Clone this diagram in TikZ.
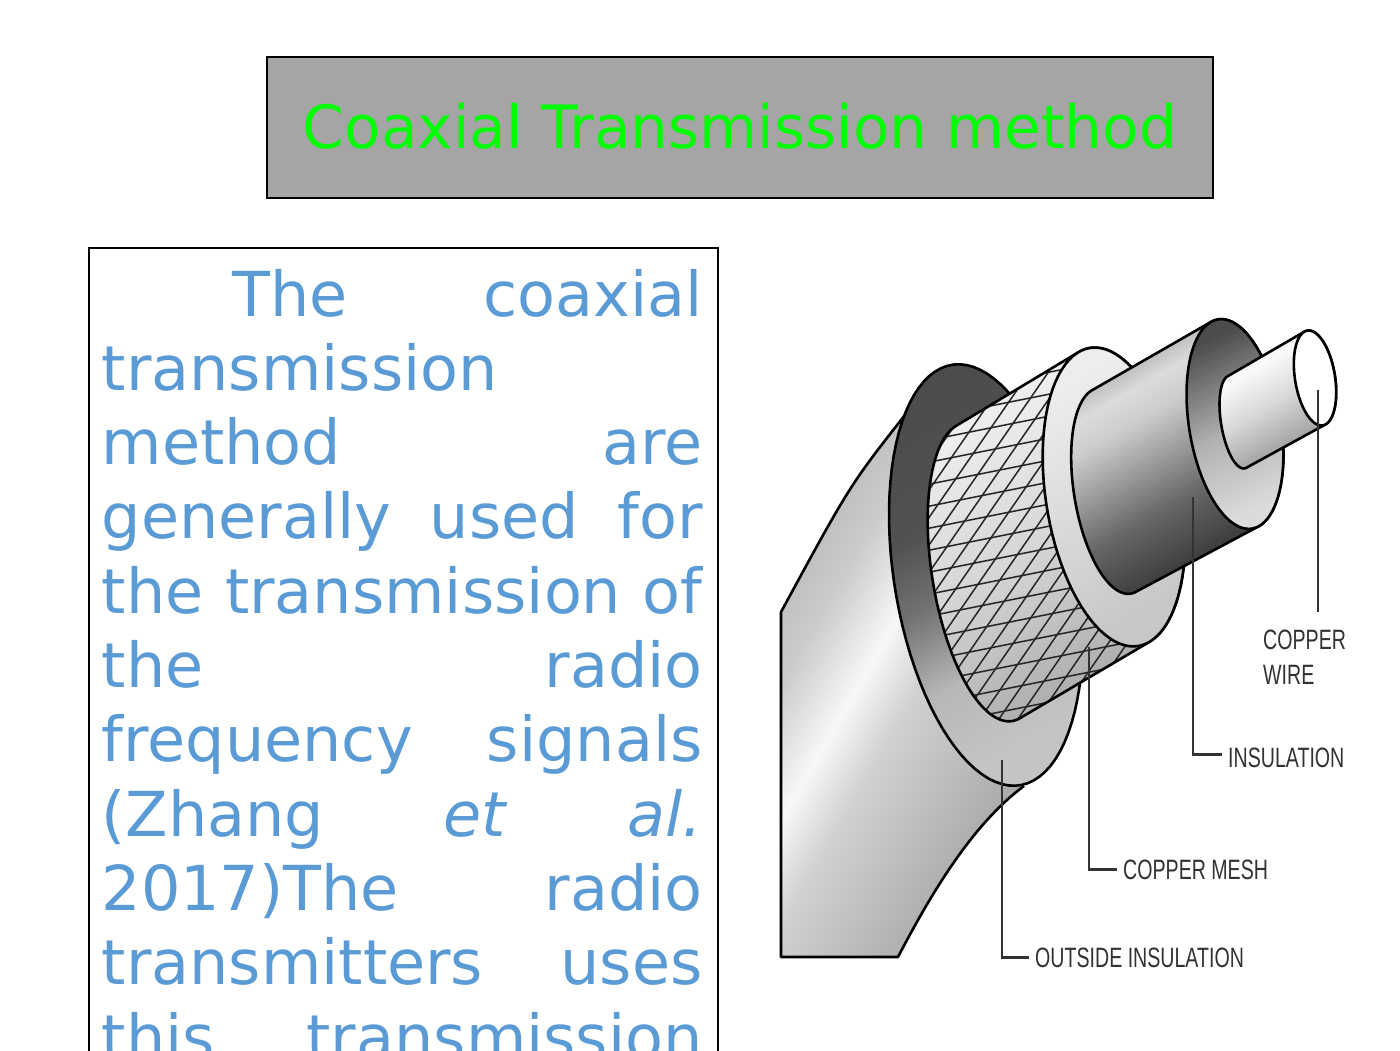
\documentclass[tikz,border=0pt]{standalone}
\usepackage{fontspec}
\setmainfont{DejaVu Sans}
\newfontfamily\lblfont[FakeStretch=0.7]{Liberation Sans}
\definecolor{bodyblue}{RGB}{91,155,213}
\definecolor{titlegreen}{RGB}{0,255,0}
\definecolor{titlegrey}{RGB}{165,165,165}
\definecolor{lblgrey}{RGB}{50,50,50}
\pgfdeclarehorizontalshading{jacketsh}{100bp}{rgb(0bp)=(0.72,0.72,0.72); rgb(25bp)=(0.72,0.72,0.72); rgb(35bp)=(0.80,0.80,0.80); rgb(44.5bp)=(0.97,0.97,0.97); rgb(52bp)=(0.82,0.82,0.82); rgb(75bp)=(0.64,0.64,0.64); rgb(100bp)=(0.64,0.64,0.64)}
\pgfdeclareverticalshading{ringsh}{100bp}{rgb(0bp)=(0.77,0.77,0.77); rgb(25bp)=(0.77,0.77,0.77); rgb(38bp)=(0.72,0.72,0.72); rgb(50bp)=(0.45,0.45,0.45); rgb(60bp)=(0.32,0.32,0.32); rgb(75bp)=(0.30,0.30,0.30); rgb(100bp)=(0.30,0.30,0.30)}
\pgfdeclareverticalshading{meshsh}{100bp}{rgb(0bp)=(0.66,0.66,0.66); rgb(25bp)=(0.66,0.66,0.66); rgb(50bp)=(0.84,0.84,0.84); rgb(75bp)=(0.95,0.95,0.95); rgb(100bp)=(0.95,0.95,0.95)}
\pgfdeclareverticalshading{lightsh}{100bp}{rgb(0bp)=(0.78,0.78,0.78); rgb(25bp)=(0.78,0.78,0.78); rgb(75bp)=(0.93,0.93,0.93); rgb(100bp)=(0.93,0.93,0.93)}
\pgfdeclareverticalshading{inssh}{100bp}{rgb(0bp)=(0.17,0.17,0.17); rgb(25bp)=(0.17,0.17,0.17); rgb(42bp)=(0.40,0.40,0.40); rgb(60bp)=(0.80,0.80,0.80); rgb(66bp)=(0.86,0.86,0.86); rgb(75bp)=(0.62,0.62,0.62); rgb(100bp)=(0.62,0.62,0.62)}
\pgfdeclareverticalshading{facesh}{100bp}{rgb(0bp)=(0.86,0.86,0.86); rgb(25bp)=(0.86,0.86,0.86); rgb(48bp)=(0.70,0.70,0.70); rgb(75bp)=(0.30,0.30,0.30); rgb(100bp)=(0.30,0.30,0.30)}
\pgfdeclareverticalshading{wiresh}{100bp}{rgb(0bp)=(0.55,0.55,0.55); rgb(25bp)=(0.55,0.55,0.55); rgb(50bp)=(0.85,0.85,0.85); rgb(65bp)=(0.98,0.98,0.98); rgb(75bp)=(0.90,0.90,0.90); rgb(100bp)=(0.90,0.90,0.90)}
% ellipse arc: centre (#1,#2), semi-major #3, semi-minor #4, from angle #5 to #6
\newcommand{\elli}[6]{plot[domain=#5:#6,samples=90,variable=\ang] ({#1+0.987*#4*cos(\ang)+0.160*#3*sin(\ang)},{#2-0.160*#4*cos(\ang)+0.987*#3*sin(\ang)})}
\newcommand{\ellito}[6]{-- plot[domain=#5:#6,samples=90,variable=\ang] ({#1+0.987*#4*cos(\ang)+0.160*#3*sin(\ang)},{#2-0.160*#4*cos(\ang)+0.987*#3*sin(\ang)})}
\newcommand{\jl}[1]{\hbox to\linewidth{#1}}
\newcommand{\gp}{\hskip 0.2em plus 1fill\relax}
\begin{document}
\begin{tikzpicture}[x=1pt,y=-1pt,
  outline/.style={draw=black,line width=2.6pt,line join=round},
  hatch/.style={draw=black!85,line width=1.5pt},
  leader/.style={draw=black!80,line width=2.6pt},
  lbl/.style={inner sep=0pt,text=lblgrey,font=\lblfont\fontsize{28}{35}\selectfont}]
\useasboundingbox (0,0) rectangle (1400,1050);
\clip (0,0) rectangle (1400,1050);

% title
\node[draw=black,line width=2pt,fill=titlegrey,minimum width=946pt,minimum height=141pt,
  inner sep=0pt,text=titlegreen,font=\fontsize{59.7}{72}\selectfont,text height=41pt,text depth=0pt]
  (title) at (740,127.5) {Coaxial Transmission method};

% body box and text
\node[draw=black,line width=2pt,minimum width=629pt,minimum height=900pt,anchor=north west,inner sep=0pt]
  (bodybox) at (88,247) {};
\node[anchor=base west,inner sep=0pt,text=bodyblue] (bodytext) at (101.5,316)
 {\begin{minipage}[t]{601pt}\fontsize{62}{74.3}\selectfont
 \jl{\hskip131pt The\gp coaxial}
 \jl{transmission\hfil}
 \jl{method\gp are}
 \jl{generally\gp used\gp for}
 \jl{the\gp transmission\gp of}
 \jl{the\gp radio}
 \jl{frequency\gp signals}
 \jl{(Zhang\gp\textit{et}\gp\textit{al.}}
 \jl{2017)The\gp radio}
 \jl{transmitters\gp uses}
 \jl{this\gp transmission}
 \end{minipage}};

% ---- coaxial cable ----
% outer jacket body
\shade[shading=jacketsh,shading angle=-30]
  (904.5,415.6) .. controls (850,485) .. (781,612) -- (781,957) -- (898,957)
  .. controls (938,880) and (978,820) .. (1024,786) -- cycle;
\draw[outline] (904.5,415.6) .. controls (850,485) .. (781,612) -- (781,957) -- (898,957)
  .. controls (938,880) and (978,820) .. (1024,786);
% jacket cut face
\shade[shading=ringsh,shading angle=30] \elli{986}{575}{213}{92}{0}{360} -- cycle;
\draw[outline] \elli{986}{575}{213}{92}{0}{360} -- cycle;
% copper mesh tube
\shade[shading=meshsh,shading angle=30] \elli{988}{572}{151}{56}{82}{262} \ellito{1114}{497}{151}{68}{260.3}{440.3} -- cycle;
\begin{scope}
  \clip \elli{988}{572}{151}{56}{82}{262} \ellito{1114}{497}{151}{68}{260.3}{440.3} -- cycle;
  \foreach \k in {0,...,24} \draw[hatch] (880,340+22*\k) -- +(320,-64);
  \foreach \k in {0,...,27} \draw[hatch] (620+19*\k,800) -- +(330,-478);
\end{scope}
\draw[outline] \elli{988}{572}{151}{56}{82}{262} \ellito{1114}{497}{151}{68}{260.3}{440.3} -- cycle;
% mesh end face
\shade[shading=lightsh,shading angle=30] \elli{1114}{497}{151}{68}{0}{360} -- cycle;
\draw[outline] \elli{1114}{497}{151}{68}{0}{360} -- cycle;
% inner insulation tube
\shade[shading=inssh,shading angle=30] \elli{1114}{491}{104}{40}{81.8}{261.8} \ellito{1235}{424}{106}{46}{260.6}{440.6} -- cycle;
\draw[outline] \elli{1114}{491}{104}{40}{81.8}{261.8} \ellito{1235}{424}{106}{46}{260.6}{440.6} -- cycle;
% insulation end face
\shade[shading=facesh,shading angle=25] \elli{1235}{424}{106}{46}{0}{360} -- cycle;
\draw[outline] \elli{1235}{424}{106}{46}{0}{360} -- cycle;
% copper wire
\shade[shading=wiresh,shading angle=30] \elli{1237}{422}{47}{16}{82.6}{262.6} \ellito{1315}{378}{48}{20}{261}{441} -- cycle;
\draw[outline] \elli{1237}{422}{47}{16}{82.6}{262.6} \ellito{1315}{378}{48}{20}{261}{441} -- cycle;
\fill[white] \elli{1315}{378}{48}{20}{0}{360} -- cycle;
\draw[outline] \elli{1315}{378}{48}{20}{0}{360} -- cycle;

% ---- labels and leaders ----
\node[lbl,anchor=north west,align=left] (lwire) at (1263,630) {COPPER\\WIRE};
\node[lbl,anchor=base west] (lins) at (1228,767) {INSULATION};
\node[lbl,anchor=base west] (lmesh) at (1123,879) {COPPER MESH};
\node[lbl,anchor=base west] (lout) at (1035,967) {OUTSIDE INSULATION};
\coordinate (pwire) at (1318,390);
\coordinate (ewire) at (1318,612);
\coordinate (pins) at (1193,497);
\coordinate (pmesh) at (1089,647);
\coordinate (pout) at (1002,760);
\draw[leader] (pwire) -- (ewire);
\draw[leader] (pins) |- ([xshift=-6pt,yshift=3pt]lins.west);
\draw[leader] (pmesh) |- ([xshift=-6pt]lmesh.west);
\draw[leader] (pout) |- ([xshift=-6pt]lout.west);
\end{tikzpicture}
\end{document}
